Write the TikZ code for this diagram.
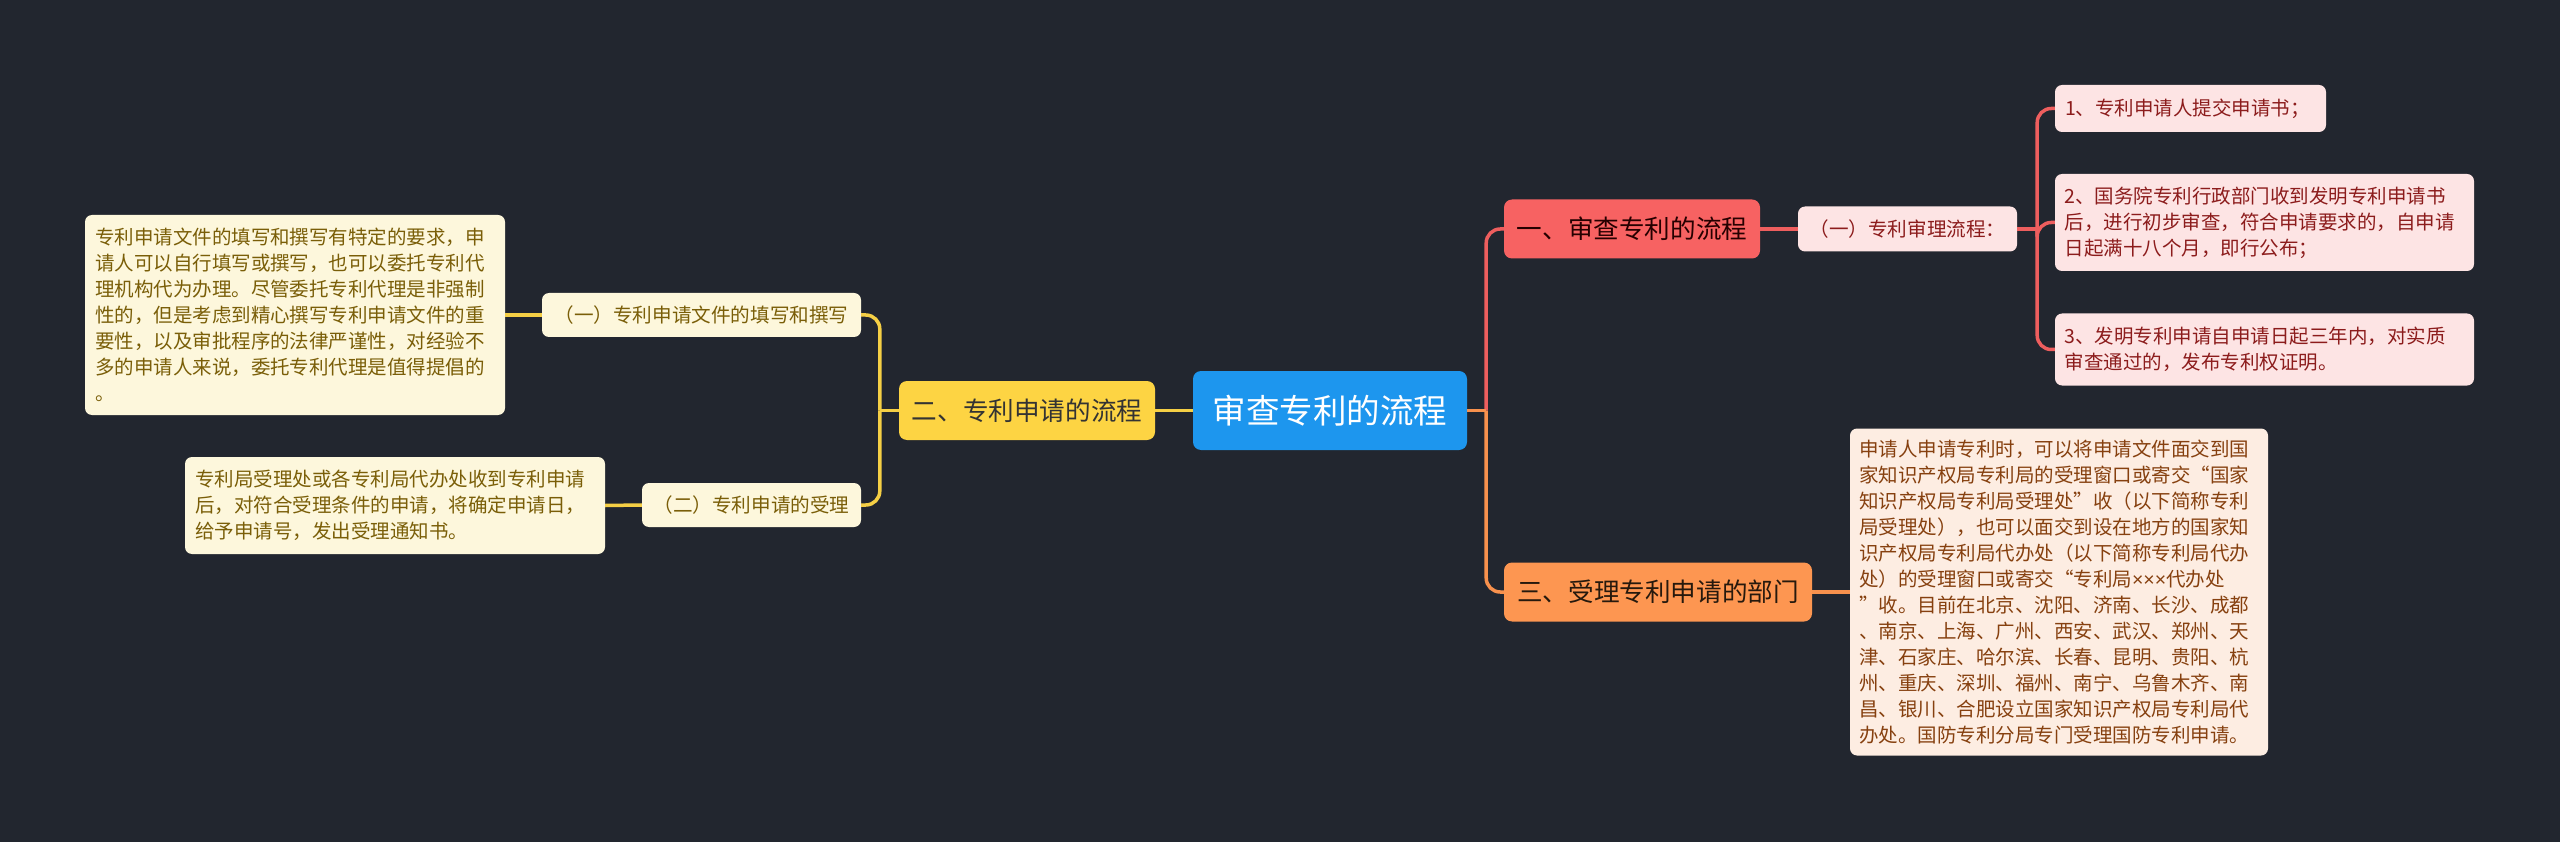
\documentclass[tikz,border=0pt]{standalone}
\usepackage{fontspec}
\newfontfamily\cjk{Noto Sans CJK SC}
\newfontfamily\lat{Liberation Sans}
\usetikzlibrary{calc}
\definecolor{bg}{HTML}{22262F}
\definecolor{cblue}{HTML}{1D96EE}
\definecolor{cyel}{HTML}{FDD443}
\definecolor{cred}{HTML}{F76262}
\definecolor{corg}{HTML}{FD9651}
\definecolor{lyel}{HTML}{FDF7DC}
\definecolor{lred}{HTML}{FDE4E4}
\definecolor{lorg}{HTML}{FDEDE2}
\definecolor{tyel}{HTML}{7A5E08}
\definecolor{tred}{HTML}{8C1C1C}
\definecolor{torg}{HTML}{86400F}
\definecolor{lnyel}{HTML}{F5CF45}
\definecolor{lnred}{HTML}{EE5E5E}
\definecolor{lnorg}{HTML}{F8914D}
\begin{document}
\begin{tikzpicture}[x=1pt,y=-1pt,
  base/.style={rounded corners=8pt, inner sep=0pt, align=center},
  rootbox/.style={base, fill=cblue, text=white, font={\cjk\fontsize{33.5pt}{40pt}\selectfont}},
  mainbox/.style={base, font={\cjk\fontsize{25.6pt}{30pt}\selectfont}},
  subbox/.style={base, rounded corners=7pt, font={\cjk\fontsize{19.6pt}{26pt}\selectfont}},
  leafbox/.style={base, rounded corners=7pt, align=left, text width=400pt, font={\cjk\fontsize{19.5pt}{26pt}\selectfont}},
  yline/.style={draw=lnyel, line width=3.5pt, rounded corners=14pt},
  rline/.style={draw=lnred, line width=3.5pt, rounded corners=14pt},
  oline/.style={draw=lnorg, line width=3.5pt, rounded corners=14pt}]
\fill[bg] (0,0) rectangle (2560,842);
\useasboundingbox (0,0) rectangle (2560,842);

% root
\node[rootbox, minimum width=274pt, minimum height=79pt] (ctr) at (1330,410.5) {审查专利的流程};

% left branch
\node[mainbox, fill=cyel, text=black!80, minimum width=256pt, minimum height=59pt] (b2) at (1027,410.5) {二、专利申请的流程};
\node[subbox, fill=lyel, text=tyel, minimum width=319pt, minimum height=44pt] (c1) at (701.5,315) {（一）专利申请文件的填写和撰写};
\node[subbox, fill=lyel, text=tyel, minimum width=219pt, minimum height=44pt] (c2) at (751.5,505) {（二）专利申请的受理};
\node[leafbox, fill=lyel, text=tyel, minimum width=420pt, minimum height=200pt] (l1) at (295,315) {专利申请文件的填写和撰写有特定的要求，申\\请人可以自行填写或撰写，也可以委托专利代\\理机构代为办理。尽管委托专利代理是非强制\\性的，但是考虑到精心撰写专利申请文件的重\\要性，以及审批程序的法律严谨性，对经验不\\多的申请人来说，委托专利代理是值得提倡的\\。};
\node[leafbox, fill=lyel, text=tyel, minimum width=420pt, minimum height=97pt] (l2) at (395,505.5) {专利局受理处或各专利局代办处收到专利申请\\后，对符合受理条件的申请，将确定申请日，\\给予申请号，发出受理通知书。};

% right top branch
\node[mainbox, fill=cred, text=black!85!red, minimum width=256pt, minimum height=59pt] (b1) at (1632,229) {一、审查专利的流程};
\node[subbox, fill=lred, text=tred, minimum width=219pt, minimum height=45pt] (c3) at (1907.5,229) {（一）专利审理流程：};
\node[leafbox, fill=lred, text=tred, text width=251pt, minimum width=271pt, minimum height=47pt] (i1) at (2190.5,108.5) {1、专利申请人提交申请书；};
\node[leafbox, fill=lred, text=tred, minimum width=419pt, minimum height=97pt] (i2) at (2264.5,222.5) {2、国务院专利行政部门收到发明专利申请书\\后，进行初步审查，符合申请要求的，自申请\\日起满十八个月，即行公布；};
\node[leafbox, fill=lred, text=tred, minimum width=419pt, minimum height=72pt] (i3) at (2264.5,349.5) {3、发明专利申请自申请日起三年内，对实质\\审查通过的，发布专利权证明。};

% right bottom branch
\node[mainbox, fill=corg, text=black!80!brown, minimum width=308pt, minimum height=59pt] (b3) at (1658,592) {三、受理专利申请的部门};
\node[leafbox, fill=lorg, text=torg, minimum width=418pt, minimum height=327pt] (l3) at (2059,592) {申请人申请专利时，可以将申请文件面交到国\\家知识产权局专利局的受理窗口或寄交“国家\\知识产权局专利局受理处”收（以下简称专利\\局受理处），也可以面交到设在地方的国家知\\识产权局专利局代办处（以下简称专利局代办\\处）的受理窗口或寄交“专利局{\lat ×××}代办处\\”收。目前在北京、沈阳、济南、长沙、成都\\、南京、上海、广州、西安、武汉、郑州、天\\津、石家庄、哈尔滨、长春、昆明、贵阳、杭\\州、重庆、深圳、福州、南宁、乌鲁木齐、南\\昌、银川、合肥设立国家知识产权局专利局代\\办处。国防专利分局专门受理国防专利申请。};

% connectors
\coordinate (yj) at ($(b2.west)+(-19,0)$);
\coordinate (rj) at ($(ctr.east)+(19,0)$);
\coordinate (pj) at ($(c3.east)+(20,0)$);
\draw[yline] (ctr.west) -- (b2.east);
\draw[yline] (b2.west) -- (yj);
\draw[yline] (yj) |- (c1.east);
\draw[yline] (yj) |- (c2.east);
\draw[yline] (c1.west) -- (l1.east);
\draw[yline] (c2.west) -- (l2.east);
\draw[rline] (rj) |- (b1.west);
\draw[oline] (rj) |- (b3.west);
\draw[oline] (ctr.east) -- (rj);
\draw[rline] (b1.east) -- (c3.west);
\draw[rline] (c3.east) -- (pj);
\draw[rline] (pj) |- (i1.west);
\draw[rline] (pj) |- (i2.west);
\draw[rline] (pj) |- (i3.west);
\draw[oline] (b3.east) -- (l3.west);
\end{tikzpicture}
\end{document}
